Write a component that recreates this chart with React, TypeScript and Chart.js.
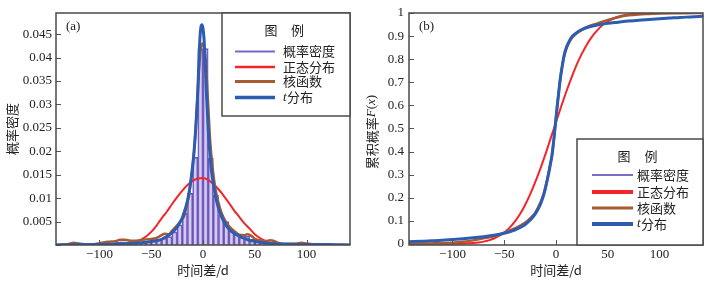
import React, { useEffect, useRef } from 'react';
import { Chart, registerables } from 'chart.js';

Chart.register(...registerables);

const SERIF = '"Liberation Serif", "Noto Sans CJK SC", serif';
const CJK = '"Noto Sans CJK SC", "Liberation Serif", serif';

// ---------- Panel (a): probability density ----------
const binCenters = [-87.5, -82.5, -77.5, -72.5, -67.5, -62.5, -57.5, -52.5, -47.5, -42.5, -37.5, -32.5, -27.5, -22.5, -17.5, -12.5, -7.5, -2.5, 2.5, 7.5, 12.5, 17.5, 22.5, 27.5, 32.5, 37.5, 42.5, 47.5, 52.5, 57.5, 62.5, 67.5, 72.5];
const binDensity = [0.0004, 0.0006, 0.0007, 0.0006, 0.0005, 0.0006, 0.0007, 0.0008, 0.001, 0.0012, 0.0015, 0.0018, 0.0028, 0.0043, 0.0068, 0.011, 0.0187, 0.0419, 0.0419, 0.0186, 0.0106, 0.0064, 0.005, 0.003, 0.0022, 0.0016, 0.0019, 0.0012, 0.0008, 0.0005, 0.0005, 0.0006, 0.0003];

const normX = [-142, -100, -95, -90, -85, -80, -75, -70, -65, -60, -55, -50, -45, -40, -35, -30, -25, -20, -15, -10, -5, 0, 5, 10, 15, 20, 25, 30, 35, 40, 45, 50, 55, 60, 65, 70, 75, 80, 85, 90, 95, 100, 142];
const normPdf = [0, 0.00001, 0.00002, 0.00004, 0.00007, 0.0001, 0.0002, 0.0004, 0.0006, 0.0011, 0.0018, 0.0028, 0.0041, 0.0057, 0.0071, 0.0087, 0.0102, 0.0116, 0.0128, 0.0137, 0.0142, 0.0143, 0.0139, 0.013, 0.0119, 0.0105, 0.009, 0.0074, 0.006, 0.0046, 0.0035, 0.0023, 0.0015, 0.0009, 0.0005, 0.0003, 0.00015, 0.0001, 0.00006, 0.00003, 0.00002, 0.00001, 0];

const kernX = [-142, -130, -125, -120, -110, -100, -95, -90, -85, -80, -75, -70, -65, -60, -55, -50, -45, -40, -37, -33, -30, -25, -22, -18, -15, -12, -9, -7, -5, -3, -1, 1, 3, 5, 7, 9, 12, 15, 18, 22, 26, 30, 35, 40, 43, 47, 50, 55, 60, 65, 68, 72, 80, 90, 95, 100, 110, 120, 142];
const kernPdf = [0, 0.0002, 0.0005, 0.0003, 0.0001, 0.0004, 0.0006, 0.0007, 0.0008, 0.0011, 0.0011, 0.0009, 0.0009, 0.001, 0.0012, 0.0013, 0.0015, 0.0021, 0.0024, 0.0023, 0.003, 0.0042, 0.005, 0.0063, 0.009, 0.013, 0.019, 0.025, 0.033, 0.04, 0.043, 0.042, 0.038, 0.03, 0.022, 0.017, 0.012, 0.009, 0.0068, 0.005, 0.0038, 0.003, 0.0022, 0.0021, 0.0023, 0.0019, 0.0013, 0.001, 0.0008, 0.001, 0.0009, 0.0005, 0.0002, 0.0003, 0.0005, 0.0003, 0.0001, 0, 0];

const tX = [-142, -120, -100, -80, -65, -55, -45, -40, -35, -30, -25, -20, -17, -14, -11, -9, -7, -5, -4, -3, -2, -1, 0, 1, 2, 3, 5, 7, 9, 12, 15, 18, 22, 26, 30, 35, 40, 45, 52, 65, 80, 100, 120, 142];
const tPdf = [0, 0.0001, 0.0001, 0.0002, 0.0004, 0.0006, 0.0009, 0.0012, 0.0018, 0.0026, 0.0038, 0.0058, 0.0078, 0.0105, 0.015, 0.019, 0.025, 0.033, 0.039, 0.044, 0.0465, 0.047, 0.0462, 0.044, 0.0395, 0.034, 0.025, 0.0185, 0.0145, 0.0105, 0.0078, 0.006, 0.0043, 0.0032, 0.0025, 0.0019, 0.0014, 0.001, 0.0007, 0.0003, 0.0002, 0.0001, 0.0001, 0];

const xTicks = [-100, -50, 0, 50, 100];
const yTicksA = [0, 0.005, 0.01, 0.015, 0.02, 0.025, 0.03, 0.035, 0.04, 0.045];

// ---------- Panel (b): cumulative probability ----------
const cdfNormX = [-142, -110, -100, -90, -80, -75, -70, -65, -60, -55, -50, -45, -40, -35, -30, -25, -20, -15, -10, -5, 0, 5, 10, 15, 20, 25, 30, 35, 40, 45, 50, 55, 60, 70, 80, 90, 100, 142];
const cdfNorm = [0, 0.0001, 0.0004, 0.0012, 0.0036, 0.006, 0.0096, 0.015, 0.023, 0.034, 0.049, 0.069, 0.095, 0.127, 0.167, 0.214, 0.268, 0.327, 0.391, 0.459, 0.527, 0.595, 0.66, 0.72, 0.776, 0.824, 0.865, 0.899, 0.926, 0.948, 0.963, 0.975, 0.984, 0.9935, 0.9977, 0.9993, 0.9998, 1];

const cdfKernX = [-142, -130, -120, -110, -100, -90, -80, -70, -60, -50, -40, -35, -30, -25, -20, -15, -12, -10, -8, -6, -4, -2, -1, 0, 2, 4, 6, 8, 10, 13, 16, 20, 25, 30, 40, 50, 60, 70, 80, 90, 100, 120, 142];
const cdfKern = [0, 0.001, 0.002, 0.003, 0.005, 0.009, 0.015, 0.024, 0.033, 0.048, 0.067, 0.078, 0.091, 0.11, 0.135, 0.18, 0.215, 0.25, 0.29, 0.335, 0.38, 0.455, 0.5, 0.545, 0.63, 0.71, 0.77, 0.815, 0.845, 0.875, 0.895, 0.912, 0.928, 0.94, 0.955, 0.97, 0.982, 0.99, 0.994, 0.996, 0.998, 0.999, 1];

const cdfTX = [-142, -130, -120, -110, -100, -90, -80, -70, -60, -50, -40, -35, -30, -25, -20, -15, -12, -10, -8, -6, -5, -4, -3, -2, -1, 0, 1, 2, 3, 4, 6, 8, 10, 13, 16, 20, 25, 30, 40, 50, 60, 70, 80, 90, 100, 110, 120, 130, 142];
const cdfT = [0.009, 0.011, 0.013, 0.016, 0.019, 0.022, 0.026, 0.031, 0.037, 0.046, 0.06, 0.07, 0.083, 0.103, 0.13, 0.172, 0.21, 0.245, 0.285, 0.33, 0.355, 0.38, 0.415, 0.455, 0.5, 0.545, 0.59, 0.63, 0.67, 0.71, 0.77, 0.82, 0.85, 0.88, 0.9, 0.915, 0.928, 0.937, 0.948, 0.955, 0.96, 0.965, 0.969, 0.972, 0.975, 0.978, 0.981, 0.983, 0.986];

const yTicksB = [0, 0.1, 0.2, 0.3, 0.4, 0.5, 0.6, 0.7, 0.8, 0.9, 1];

const legendNames = ['概率密度', '正态分布', '核函数', 't分布'];

const PURPLE = '#7d67c6';
const RED = '#f2262a';
const BROWN = '#a65b31';
const BLUE = '#2c5db3';

const pts = (xs: number[], ys: number[]) => xs.map((x, i) => ({ x, y: ys[i] }));

const minusFmt = (v: any) => {
  const n = Number(v);
  return n < 0 ? '\u2212' + Math.abs(n) : String(n);
};

type LegendSpec = {
  x0: number; y0: number; x1: number; y1: number;
  titleY: number; titleXs: [number, number];
  rowYs: number[]; lineX0: number; lineX1: number; textX: number;
  colors: string[]; widths: number[];
};

function decorPlugin(label: string, labelX: number, legend: LegendSpec, yTitleB?: { x: number; y: number }) {
  return {
    id: 'decor' + label,
    afterDraw(chart: any) {
      const { ctx, chartArea: ca, scales } = chart;
      ctx.save();
      // inward tick marks
      ctx.strokeStyle = '#555';
      ctx.lineWidth = 1;
      ctx.beginPath();
      for (const t of scales.x.ticks) {
        const px = Math.round(scales.x.getPixelForValue(t.value)) + 0.5;
        ctx.moveTo(px, ca.bottom);
        ctx.lineTo(px, ca.bottom - 5);
      }
      for (const t of scales.y.ticks) {
        const py = Math.round(scales.y.getPixelForValue(t.value)) + 0.5;
        ctx.moveTo(ca.left, py);
        ctx.lineTo(ca.left + 5, py);
      }
      ctx.stroke();
      // frame
      ctx.lineWidth = 1.5;
      ctx.strokeStyle = '#4a4a4a';
      ctx.strokeRect(ca.left, ca.top, ca.right - ca.left, ca.bottom - ca.top);
      // panel label
      ctx.fillStyle = '#222';
      ctx.font = '13px ' + SERIF;
      ctx.textBaseline = 'middle';
      ctx.textAlign = 'left';
      ctx.fillText(label, labelX, 27);
      // legend
      const L = legend;
      ctx.fillStyle = '#fff';
      ctx.fillRect(L.x0, L.y0, L.x1 - L.x0, L.y1 - L.y0);
      ctx.strokeStyle = '#4a4a4a';
      ctx.lineWidth = 1.5;
      ctx.strokeRect(L.x0, L.y0, L.x1 - L.x0, L.y1 - L.y0);
      ctx.fillStyle = '#222';
      ctx.font = '13px ' + CJK;
      ctx.textAlign = 'center';
      ctx.fillText('图', L.titleXs[0], L.titleY);
      ctx.fillText('例', L.titleXs[1], L.titleY);
      ctx.textAlign = 'left';
      legendNames.forEach((name, i) => {
        const y = L.rowYs[i];
        ctx.strokeStyle = L.colors[i];
        ctx.lineWidth = L.widths[i];
        ctx.beginPath();
        ctx.moveTo(L.lineX0, y);
        ctx.lineTo(L.lineX1, y);
        ctx.stroke();
        ctx.fillStyle = '#222';
        if (name.startsWith('t')) {
          ctx.font = 'italic 13px ' + SERIF;
          ctx.fillText('t', L.textX, y);
          const w = ctx.measureText('t').width;
          ctx.font = '13px ' + CJK;
          ctx.fillText(name.slice(1), L.textX + w + 0.5, y);
        } else {
          ctx.font = '13px ' + CJK;
          ctx.fillText(name, L.textX, y);
        }
      });
      // custom y title for (b): 累积概率F(x)
      if (yTitleB) {
        ctx.translate(yTitleB.x, yTitleB.y);
        ctx.rotate(-Math.PI / 2);
        const segs: [string, string][] = [
          ['累积概率', '13px ' + CJK],
          ['F', 'italic 13px ' + SERIF],
          ['(', '13px ' + SERIF],
          ['x', 'italic 13px ' + SERIF],
          [')', '13px ' + SERIF],
        ];
        let total = 0;
        for (const [s, f] of segs) { ctx.font = f; total += ctx.measureText(s).width; }
        let x = -total / 2;
        ctx.textAlign = 'left';
        ctx.fillStyle = '#222';
        for (const [s, f] of segs) {
          ctx.font = f;
          ctx.fillText(s, x, 0);
          x += ctx.measureText(s).width;
        }
      }
      ctx.restore();
    },
  };
}

const tickFont = { family: SERIF, size: 13 };

function lineDs(label: string, data: any[], color: string, width: number, order: number) {
  return {
    type: 'line' as const,
    label,
    data,
    borderColor: color,
    backgroundColor: color,
    borderWidth: width,
    pointRadius: 0,
    fill: false,
    cubicInterpolationMode: 'monotone' as const,
    order,
  };
}

export default function App() {
  const refA = useRef<HTMLCanvasElement>(null);
  const refB = useRef<HTMLCanvasElement>(null);

  useEffect(() => {
    Chart.defaults.font.family = SERIF;
    Chart.defaults.color = '#222';

    const chartA = new Chart(refA.current!, {
      type: 'bar',
      data: {
        datasets: [
          lineDs('t分布', pts(tX, tPdf), BLUE, 3, 1),
          lineDs('核函数', pts(kernX, kernPdf), BROWN, 2.5, 2),
          lineDs('正态分布', pts(normX, normPdf), RED, 2, 3),
          {
            type: 'bar',
            label: '概率密度',
            data: pts(binCenters, binDensity),
            backgroundColor: 'rgba(160,140,215,0.45)',
            borderColor: '#6a52bb',
            borderWidth: 1,
            barPercentage: 1,
            categoryPercentage: 1,
            order: 4,
          } as any,
        ],
      },
      options: {
        responsive: false,
        devicePixelRatio: 1,
        animation: false,
        events: [],
        layout: { padding: { left: 0, right: 8, top: 13, bottom: 0 } },
        plugins: { legend: { display: false }, tooltip: { enabled: false } },
        scales: {
          x: {
            type: 'linear',
            min: -142,
            max: 142,
            offset: false,
            grid: { display: false, drawTicks: false },
            border: { display: false },
            ticks: { font: tickFont, padding: 2, autoSkip: false, maxRotation: 0, callback: minusFmt },
            afterBuildTicks: (s: any) => { s.ticks = xTicks.map((v) => ({ value: v })); },
            afterFit: (s: any) => { s.height = 39; },
            title: { display: true, text: '时间差/d', font: { family: CJK, size: 13 }, padding: { top: 6, bottom: 6 } },
          },
          y: {
            type: 'linear',
            min: 0,
            max: 0.0495,
            grid: { display: false, drawTicks: false },
            border: { display: false },
            ticks: {
              font: tickFont,
              padding: 4,
              autoSkip: false,
              callback: (v: any) => (Number(v) === 0 ? '' : String(parseFloat(Number(v).toFixed(3)))),
            },
            afterBuildTicks: (s: any) => { s.ticks = yTicksA.map((v) => ({ value: v })); },
            afterFit: (s: any) => { s.width = 56; },
            title: { display: true, text: '概率密度', font: { family: CJK, size: 13 }, padding: { top: 4, bottom: 4 } },
          },
        },
      } as any,
      plugins: [
        decorPlugin('(a)', 66, {
          x0: 222, y0: 13, x1: 350, y1: 116,
          titleY: 30, titleXs: [271, 297.5],
          rowYs: [51.5, 67, 81.5, 97.5], lineX0: 235, lineX1: 275, textX: 283,
          colors: [PURPLE, RED, BROWN, BLUE], widths: [2, 2.5, 3, 3.5],
        }),
      ],
    });

    const chartB = new Chart(refB.current!, {
      type: 'line',
      data: {
        datasets: [
          lineDs('t分布', pts(cdfTX, cdfT), BLUE, 3, 1),
          lineDs('核函数', pts(cdfKernX, cdfKern), BROWN, 2.5, 2),
          lineDs('正态分布', pts(cdfNormX, cdfNorm), RED, 2, 3),
        ] as any,
      },
      options: {
        responsive: false,
        devicePixelRatio: 1,
        animation: false,
        events: [],
        layout: { padding: { left: 0, right: 14, top: 13, bottom: 0 } },
        plugins: { legend: { display: false }, tooltip: { enabled: false } },
        scales: {
          x: {
            type: 'linear',
            min: -142,
            max: 142,
            offset: false,
            grid: { display: false, drawTicks: false },
            border: { display: false },
            ticks: { font: tickFont, padding: 2, autoSkip: false, maxRotation: 0, callback: minusFmt },
            afterBuildTicks: (s: any) => { s.ticks = xTicks.map((v) => ({ value: v })); },
            afterFit: (s: any) => { s.height = 39; },
            title: { display: true, text: '时间差/d', font: { family: CJK, size: 13 }, padding: { top: 6, bottom: 6 } },
          },
          y: {
            type: 'linear',
            min: -0.005,
            max: 1,
            grid: { display: false, drawTicks: false },
            border: { display: false },
            ticks: {
              font: tickFont,
              padding: 5,
              autoSkip: false,
              callback: (v: any) => String(parseFloat(Number(v).toFixed(1))),
            },
            afterBuildTicks: (s: any) => { s.ticks = yTicksB.map((v) => ({ value: v })); },
            afterFit: (s: any) => { s.width = 51; },
            title: { display: false },
          },
        },
      } as any,
      plugins: [
        decorPlugin('(b)', 61, {
          x0: 219, y0: 139, x1: 345, y1: 245,
          titleY: 156, titleXs: [266, 293],
          rowYs: [175, 192, 208, 224], lineX0: 234, lineX1: 275, textX: 279,
          colors: ['#4a3fb5', RED, BROWN, BLUE], widths: [1.5, 4, 3, 4],
        }, { x: 14, y: 132 }),
      ],
    });

    return () => {
      chartA.destroy();
      chartB.destroy();
    };
  }, []);

  return (
    <div style={{ position: 'fixed', left: 0, top: 0, width: 717, height: 284, background: '#fff' }}>
      <canvas ref={refA} width={358} height={284} style={{ position: 'absolute', left: 0, top: 0, width: 358, height: 284 }} />
      <canvas ref={refB} width={359} height={284} style={{ position: 'absolute', left: 358, top: 0, width: 359, height: 284 }} />
    </div>
  );
}
